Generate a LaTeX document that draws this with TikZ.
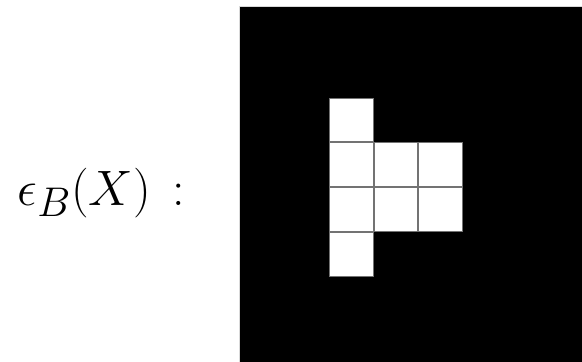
\documentclass[tikz,border=0pt]{standalone}
\usepackage{amsmath}
\usepackage{tikz}
\usetikzlibrary{positioning}

\begin{document}
\begin{tikzpicture}[
        x=0.5pt, y=-0.5pt,
        node distance=0mm,
        cell/.style={draw=black!55, fill=white, line width=0.5pt, rectangle, minimum size=21.85pt, inner sep=0pt}
    ]
        \useasboundingbox (0,0) rectangle (582,362);
        \clip (0,0) rectangle (582,362);

        % The black image
        \fill[black, draw=black!15, line width=0.5pt] (239,7) rectangle (600,380);

        % The label
        \node[font=\fontsize{30}{36}\selectfont, inner sep=0pt] (erosion) at (101.5,193) {$\epsilon_B(X)\,:$};

        % The eroded set (white pixels)
        \node[cell] (c00) at (351.15,120.15) {};
        \node[cell, below=of c00] (c01) {};
        \node[cell, right=of c01] (c11) {};
        \node[cell, right=of c11] (c21) {};
        \node[cell, below=of c01] (c02) {};
        \node[cell, right=of c02] (c12) {};
        \node[cell, right=of c12] (c22) {};
        \node[cell, below=of c02] (c03) {};

    \end{tikzpicture}
\end{document}
